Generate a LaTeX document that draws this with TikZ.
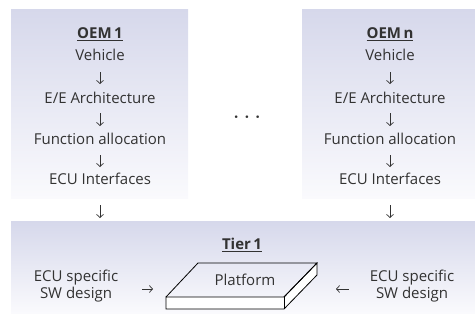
\documentclass[tikz,border=0pt]{standalone}
\usepackage{fontspec}
\setmainfont{Open Sans}
\usetikzlibrary{arrows.meta}
\definecolor{gtop}{RGB}{214,216,235}
\definecolor{gbot}{RGB}{250,250,253}
\definecolor{txt}{RGB}{50,50,50}
\tikzset{
  panel/.style={draw=none, top color=gtop, bottom color=gbot, inner sep=0pt, anchor=north west},
  lbl/.style={text=txt, font=\fontsize{15}{17.5}\selectfont, inner sep=0pt, align=center},
  ttl/.style={text=txt, font=\fontsize{15}{17}\selectfont\bfseries, inner sep=0pt},
  arr/.style={draw=txt, line width=0.7pt, -{Straight Barb[length=3.2pt,width=7pt]}},
  slab/.style={draw=black, line width=0.8pt, line join=miter}
}
\begin{document}
\begin{tikzpicture}[x=1pt,y=-1pt]
\useasboundingbox (0,0) rectangle (475,324);
% panels
\node[panel, minimum width=177pt, minimum height=189pt] (oem1) at (11,9) {};
\node[panel, minimum width=173pt, minimum height=189pt] (oemn) at (302,9) {};
\node[panel, minimum width=464pt, minimum height=92pt] (tier) at (11,221) {};
% OEM 1 column
\node[ttl] (t1) at (100,34) {\underline{OEM\,1}};
\node[lbl] (v1) at (100,55) {Vehicle};
\node[lbl] (e1) at (100,98) {E/E Architecture};
\node[lbl] (f1) at (100,139) {Function allocation};
\node[lbl] (c1) at (100,179) {ECU Interfaces};
\draw[arr, shorten <=17pt, shorten >=14pt] (v1.center) -- (e1.center);
\draw[arr, shorten <=15pt, shorten >=13pt] (e1.center) -- (f1.center);
\draw[arr, shorten <=16pt, shorten >=12pt] (f1.center) -- (c1.center);
% OEM n column
\node[ttl] (tn) at (390,34) {\underline{OEM\,n}};
\node[lbl] (vn) at (390,55) {Vehicle};
\node[lbl] (en) at (390,98) {E/E Architecture};
\node[lbl] (fn) at (390,139) {Function allocation};
\node[lbl] (cn) at (390,179) {ECU Interfaces};
\draw[arr, shorten <=17pt, shorten >=14pt] (vn.center) -- (en.center);
\draw[arr, shorten <=15pt, shorten >=13pt] (en.center) -- (fn.center);
\draw[arr, shorten <=16pt, shorten >=12pt] (fn.center) -- (cn.center);
% dots
\node[lbl, font=\fontsize{15}{15}\selectfont\bfseries] (dots) at (247,119) {·\hspace{6.5pt}·\hspace{6.5pt}·};
% arrows to tier
\coordinate (d1) at (100,198);
\coordinate (dn) at (390,198);
\draw[arr, shorten <=7pt, shorten >=3pt] (d1) -- (d1 |- tier.north);
\draw[arr, shorten <=7pt, shorten >=3pt] (dn) -- (dn |- tier.north);
% Tier 1
\node[ttl] (tt) at (242,245) {\underline{Tier\,1}};
% platform slab
\coordinate (p1) at (198,263);
\coordinate (p2) at (317,263);
\coordinate (p3) at (284,297);
\coordinate (p4) at (166,297);
\coordinate (p5) at (166,309);
\coordinate (p6) at (284,309);
\coordinate (p7) at (317,275);
\draw[slab, fill=white] (p4) -- (p3) -- (p2) -- (p7) -- (p6) -- (p5) -- cycle;
\draw[slab] (p4) -- (p1) -- (p2) -- (p3);
\draw[slab] (p3) -- (p6);
\node[lbl] (plat) at (245,280) {Platform};
\coordinate (sl) at (166,289);
\coordinate (sr) at (317,289);
% ECU specific SW design
\node[lbl] (el) at (76,286) {ECU specific\\SW design};
\node[lbl] (er) at (412,286) {ECU specific\\SW design};
\draw[arr, shorten <=24pt, shorten >=13pt] (sl -| el.east) -- (sl);
\draw[arr, shorten <=21pt, shorten >=19pt] (sr -| er.west) -- (sr);
\end{tikzpicture}
\end{document}
